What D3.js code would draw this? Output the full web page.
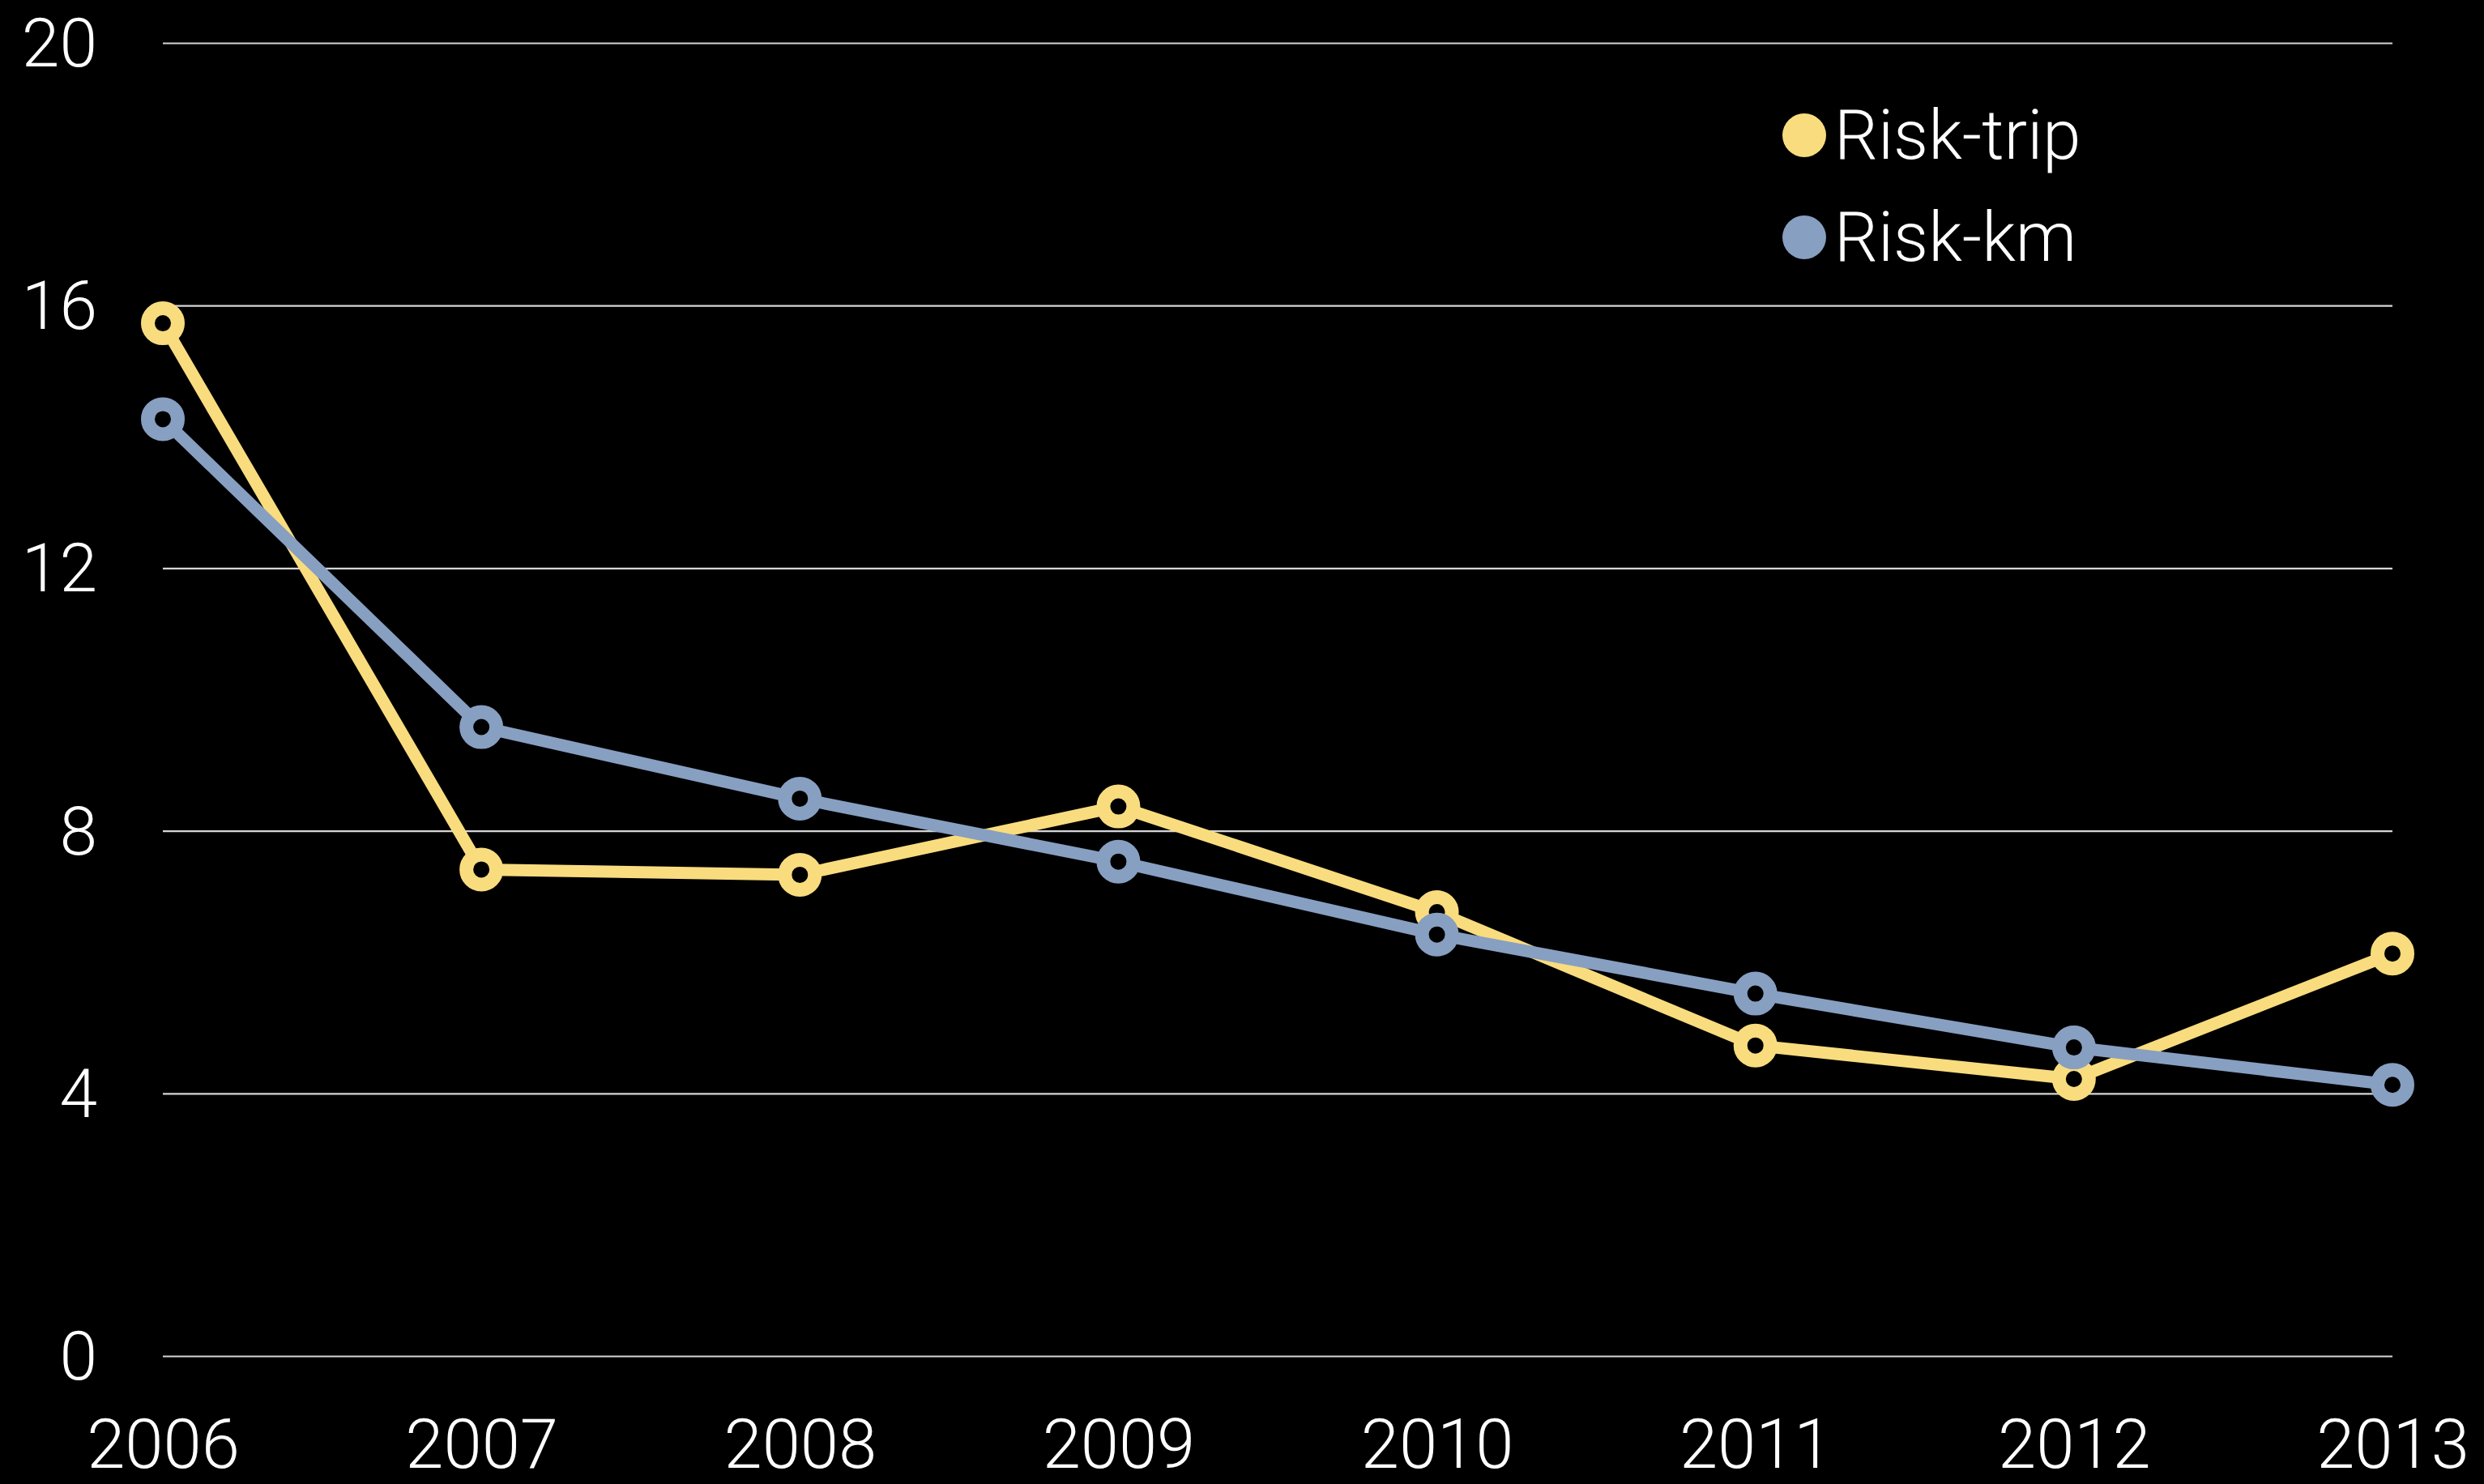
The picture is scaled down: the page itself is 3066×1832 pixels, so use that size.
<!DOCTYPE html>
<html>
<head>
<meta charset="utf-8">
<script src="https://cdn.jsdelivr.net/npm/d3@7"></script>
<style>
  html, body { margin: 0; padding: 0; background: #000; }
  svg { display: block; }
  .axis text { font-family: Roboto, "Open Sans", "Liberation Sans", sans-serif; font-weight: 300; fill: #fff; }
</style>
</head>
<body>
<svg id="chart"></svg>
<script>
// ===== Data =====
const years = [2006, 2007, 2008, 2009, 2010, 2011, 2012, 2013];
const riskTrip = [15.73, 7.41, 7.33, 8.37, 6.76, 4.73, 4.22, 6.13];
const riskKm = [14.27, 9.58, 8.49, 7.53, 6.42, 5.52, 4.70, 4.13];
const yTicks = [0, 4, 8, 12, 16, 20];
const seriesNames = ["Risk-trip", "Risk-km"];
const seriesColors = ["#f9dc7e", "#879fc1"];

// ===== Basis SVG =====
const W = 3066, H = 1832;
const svg = d3.select("#chart").attr("width", W).attr("height", H);
svg.append("rect").attr("width", W).attr("height", H).attr("fill", "#000");

const plotLeft = 201, plotRight = 2953, plotTop = 53, plotBottom = 1674;

const x = d3.scaleLinear().domain([2006, 2013]).range([plotLeft, plotRight]);
const y = d3.scaleLinear().domain([0, 20]).range([plotBottom, plotTop]);

// Y as + rasterlijnen
const yAxis = svg.append("g")
  .attr("class", "axis")
  .attr("transform", `translate(${plotLeft},0)`)
  .call(d3.axisLeft(y).tickValues(yTicks).tickSize(-(plotRight - plotLeft)).tickPadding(81));
yAxis.select(".domain").remove();
yAxis.selectAll(".tick line").attr("stroke", "#d6d6d6").attr("stroke-width", 2.2);
yAxis.selectAll(".tick text").attr("font-size", 84).attr("dy", "0.34em");

// X as (labels staan tegen de onderrand, zoals in het origineel)
const xAxis = svg.append("g")
  .attr("class", "axis")
  .attr("transform", `translate(0,${plotBottom})`)
  .call(d3.axisBottom(x).tickValues(years).tickFormat(d3.format("d")).tickSize(0).tickPadding(78));
xAxis.select(".domain").remove();
xAxis.selectAll(".tick text").attr("font-size", 85);

// ===== Lijnen + markers =====
const line = d3.line().x((d, i) => x(years[i])).y(d => y(d));

[riskTrip, riskKm].forEach(function (vals, s) {
  svg.append("path")
    .datum(vals)
    .attr("d", line)
    .attr("fill", "none")
    .attr("stroke", seriesColors[s])
    .attr("stroke-width", 15)
    .attr("stroke-linejoin", "round");

  svg.selectAll(".pt" + s)
    .data(vals)
    .enter()
    .append("circle")
    .attr("class", "pt" + s)
    .attr("cx", (d, i) => x(years[i]))
    .attr("cy", d => y(d))
    .attr("r", 18.5)
    .attr("fill", "#000")
    .attr("stroke", seriesColors[s])
    .attr("stroke-width", 17);
});

// ===== Legenda =====
const legend = svg.append("g").attr("transform", "translate(2227,167)");
const item = legend.selectAll(".item")
  .data(seriesNames)
  .enter()
  .append("g")
  .attr("class", "item")
  .attr("transform", (d, i) => `translate(0,${i * 126})`);

item.append("circle")
  .attr("r", 27)
  .attr("fill", (d, i) => seriesColors[i]);

item.append("text")
  .attr("x", 37)
  .attr("y", 29)
  .attr("fill", "#fff")
  .attr("font-family", 'Roboto, "Open Sans", "Liberation Sans", sans-serif')
  .attr("font-weight", 300)
  .attr("font-size", 85)
  .text(d => d);
</script>
</body>
</html>
